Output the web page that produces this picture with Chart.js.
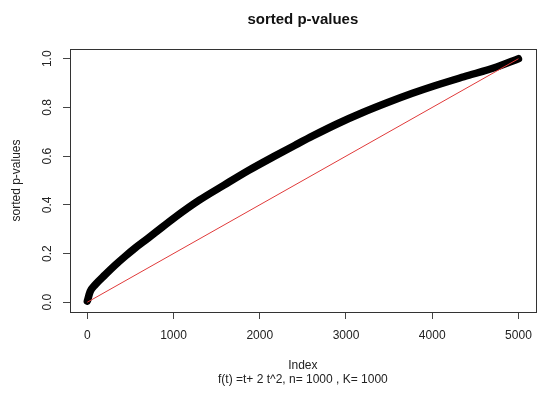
<!DOCTYPE html>
<html>
<head>
<meta charset="utf-8">
<title>sorted p-values</title>
<script src="https://cdn.jsdelivr.net/npm/chart.js@4"></script>
<style>
  html, body { margin: 0; padding: 0; background: #fff; }
  #pv { display: block; }
</style>
</head>
<body>
<canvas id="pv" width="541" height="394"></canvas>
<script>
// --- data: sorted p-values against their index ---
const pIndex = [1, 34, 92, 207, 322, 437, 552, 701, 782, 1011, 1299, 1586, 1874,
                2161, 2410, 2621, 2908, 3195, 3483, 3770, 4020, 4368, 4747, 5000];
const pSorted = [0.005, 0.044, 0.072, 0.113, 0.152, 0.188, 0.222, 0.262, 0.284, 0.347,
                 0.419, 0.481, 0.542, 0.598, 0.645, 0.684, 0.734, 0.779, 0.820, 0.858,
                 0.888, 0.926, 0.966, 1.000];

// uniform reference line
const refIndex = [0, 5000];
const refValue = [0, 1];

const xTicks = [0, 1000, 2000, 3000, 4000, 5000];
const yTicks = [0, 0.2, 0.4, 0.6, 0.8, 1.0];

const FONT = "'Liberation Sans', Arial, sans-serif";

// box around the plot region
const boxPlugin = {
    id: 'plotBox',
    afterDraw(chart) {
        const { ctx, chartArea: a } = chart;
        ctx.save();
        ctx.strokeStyle = '#333';
        ctx.lineWidth = 1;
        ctx.strokeRect(Math.round(a.left) + 0.5, Math.round(a.top) + 0.5,
                       Math.round(a.right - a.left), Math.round(a.bottom - a.top));
        ctx.restore();
    }
};

const ctx = document.getElementById('pv').getContext('2d');

new Chart(ctx, {
    type: 'scatter',
    data: {
        datasets: [
            {
                label: 'uniform',
                data: refIndex.map((x, i) => ({ x, y: refValue[i] })),
                showLine: true,
                borderColor: '#e03a3a',
                borderWidth: 1,
                pointRadius: 0,
                order: 0
            },
            {
                label: 'sorted p-values',
                data: pIndex.map((x, i) => ({ x, y: pSorted[i] })),
                showLine: true,
                borderColor: '#000',
                backgroundColor: '#000',
                borderWidth: 7.5,
                borderCapStyle: 'round',
                borderJoinStyle: 'round',
                cubicInterpolationMode: 'monotone',
                pointRadius: 0,
                order: 1
            }
        ]
    },
    options: {
        responsive: false,
        animation: false,
        layout: { padding: { top: 0, right: 2, bottom: 0, left: 0 } },
        plugins: {
            legend: { display: false },
            tooltip: { enabled: false },
            title: {
                display: true,
                text: 'sorted p-values',
                fullSize: false,
                color: '#111',
                font: { family: FONT, size: 15, weight: 'bold', lineHeight: 1.2 },
                padding: { top: 11, bottom: 20 }
            }
        },
        scales: {
            x: {
                type: 'linear',
                min: -200,
                max: 5200,
                afterBuildTicks: s => { s.ticks = xTicks.map(v => ({ value: v })); },
                afterFit: s => { s.height = 82; },
                border: { display: false },
                grid: { drawOnChartArea: false, drawTicks: true, tickLength: 7, color: '#444' },
                ticks: {
                    padding: 9,
                    maxRotation: 0,
                    autoSkip: false,
                    color: '#222',
                    font: { family: FONT, size: 12 },
                    callback: v => String(v)
                },
                title: {
                    display: true,
                    text: ['Index', 'f(t) =t+ 2 t^2, n= 1000 , K= 1000'],
                    color: '#222',
                    font: { family: FONT, size: 12, lineHeight: '14px' },
                    padding: { top: 0, bottom: 7 }
                }
            },
            y: {
                type: 'linear',
                min: -0.04,
                max: 1.04,
                afterBuildTicks: s => { s.ticks = yTicks.map(v => ({ value: v })); },
                afterFit: s => { s.width = 70; },
                border: { display: false },
                grid: { drawOnChartArea: false, drawTicks: true, tickLength: 7, color: '#444' },
                ticks: {
                    padding: 7,
                    minRotation: 90,
                    maxRotation: 90,
                    crossAlign: 'center',
                    autoSkip: false,
                    color: '#222',
                    font: { family: FONT, size: 12 },
                    callback: v => v.toFixed(1)
                },
                title: {
                    display: true,
                    text: 'sorted p-values',
                    color: '#222',
                    font: { family: FONT, size: 12, lineHeight: '14px' },
                    padding: { top: 10, bottom: 0 }
                }
            }
        }
    },
    plugins: [boxPlugin]
});
</script>
</body>
</html>
